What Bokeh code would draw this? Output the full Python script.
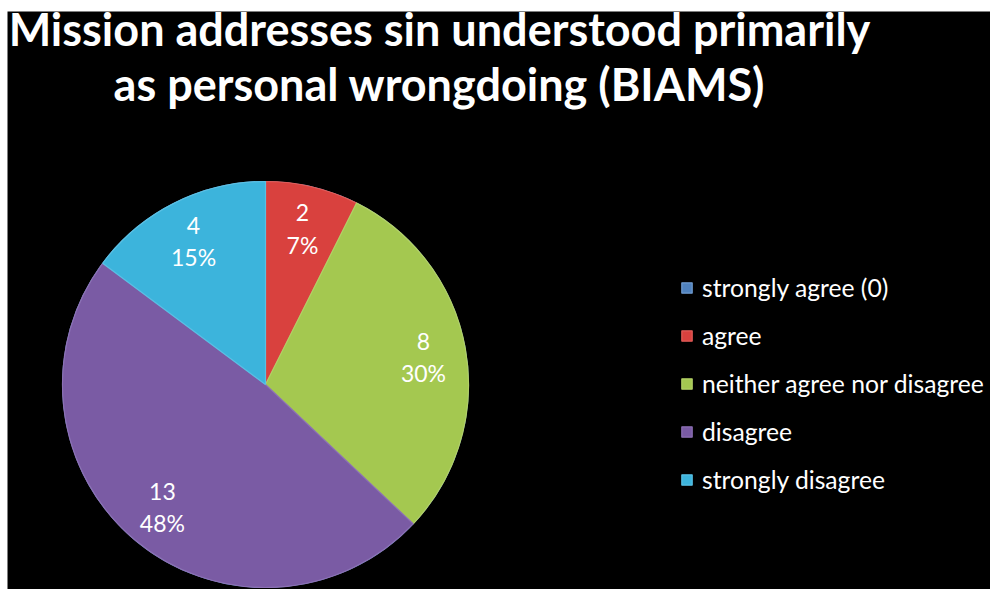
import math
from bokeh.plotting import figure
from bokeh.models import ColumnDataSource, Range1d, Label, Legend, LegendItem
from bokeh.core.properties import value
from bokeh.embed import file_html
from bokeh.resources import INLINE

# ---- data ----
categories = ["strongly agree (0)", "agree", "neither agree nor disagree",
              "disagree", "strongly disagree"]
counts = [0, 2, 8, 13, 4]
colors = ["#4F81BD", "#D9413E", "#A4C850", "#7A5BA4", "#3CB4DC"]
edge_colors = ["#6F9BD0", "#E25C58", "#B2D066", "#8C70B4", "#58C0E4"]
title_lines = ["Mission addresses sin understood primarily",
               "as personal wrongdoing (BIAMS)"]

LEFT, TOP = 7, 11
FW, FH = 983, 578
W, H = FW + LEFT, FH + TOP

total = sum(counts)
start, end, lx, ly, labels = [], [], [], [], []
cx, cy, R = 258, 205, 203
a = math.pi / 2
for c in counts:
    span = 2 * math.pi * c / total
    s, e = a, a - span
    start.append(e)
    end.append(s)
    mid = (s + e) / 2
    lx.append(cx + 0.79 * R * math.cos(mid))
    ly.append(cy + 0.79 * R * math.sin(mid))
    labels.append(f"{c}\n{round(100 * c / total)}%" if c > 0 else "")
    a = e

src = ColumnDataSource(dict(cat=categories, count=counts, color=colors,
                            edge=edge_colors, start=start, end=end,
                            lx=lx, ly=ly, label=labels))

p = figure(width=W, height=H, output_backend="svg", toolbar_location=None,
           x_range=Range1d(0, FW), y_range=Range1d(0, FH),
           min_border_left=LEFT, min_border_right=0, min_border_bottom=0,
           min_border_top=TOP, background_fill_color="black",
           border_fill_color="white", outline_line_color=None)
p.axis.visible = False
p.grid.visible = False

wedges = p.wedge(x=cx, y=cy, radius=R, start_angle="start", end_angle="end",
                 fill_color="color", line_color="edge", line_width=1.2,
                 source=src)

p.text(x="lx", y="ly", text="label", source=src, text_color="white",
       text_font=value("Lato"), text_font_size="23px", text_align="center",
       text_baseline="middle", text_line_height=1.15)

items = [LegendItem(label=categories[i], renderers=[wedges], index=i)
         for i in range(len(categories))]
legend = Legend(items=items, location=(673, 95), background_fill_alpha=0,
                border_line_color=None, label_text_color="white",
                label_text_font="Lato", label_text_font_size="24.7px",
                glyph_width=13, glyph_height=13, label_standoff=9,
                label_height=30, spacing=18, padding=0, margin=0)
p.add_layout(legend, "center")

for t, yb in zip(title_lines, [FH - 17, FH - 72]):
    p.add_layout(Label(x=432, y=yb, text=t, text_color="white",
                       text_font="Lato", text_font_style="bold",
                       text_font_size="45px", text_align="center",
                       text_baseline="alphabetic"))

open("out.html", "w").write(file_html(p, INLINE))
